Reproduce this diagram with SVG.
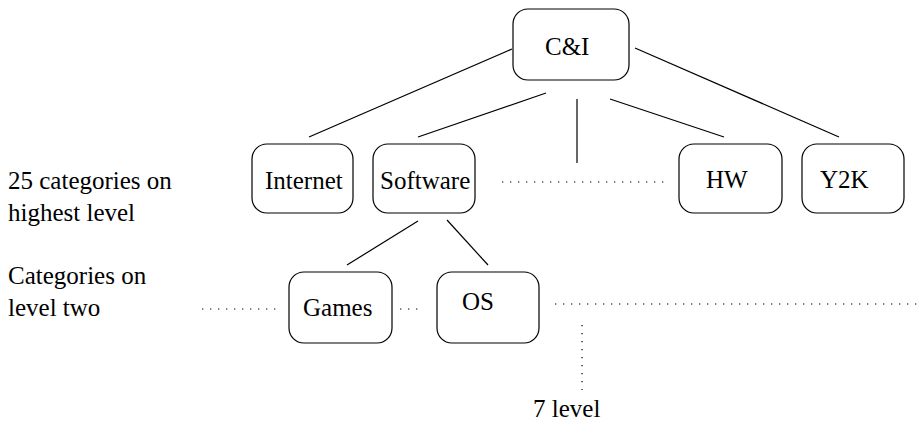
<svg xmlns="http://www.w3.org/2000/svg" width="917" height="421" viewBox="0 0 917 421">
<rect width="917" height="421" fill="#fff"/>
<g id="connectors" stroke="#000" stroke-width="1.2" fill="none">
<line x1="512" y1="49" x2="309" y2="137"/>
<line x1="546" y1="93" x2="418" y2="137"/>
<line x1="577" y1="99" x2="577" y2="163"/>
<line x1="610" y1="99" x2="724" y2="137"/>
<line x1="635" y1="48" x2="839" y2="137"/>
<line x1="418" y1="221" x2="347" y2="265"/>
<line x1="447" y1="220" x2="488" y2="265"/>
<g stroke-dasharray="1.3 6.7">
<line x1="502" y1="182" x2="670" y2="182"/>
<line x1="202" y1="309" x2="276" y2="309"/>
<line x1="400" y1="309" x2="422" y2="309"/>
<line x1="555" y1="304" x2="917" y2="304"/>
<line x1="582" y1="325" x2="582" y2="390"/>
</g>
</g>
<g id="nodes" font-family="Liberation Serif" font-size="25">
<g id="n-ci"><rect x="513" y="9" width="116" height="71" rx="15" fill="#fff" stroke="#000" stroke-width="1.2"/><text x="545" y="55">C&amp;I</text></g>
<g id="n-internet"><rect x="252" y="144" width="101" height="69" rx="15" fill="#fff" stroke="#000" stroke-width="1.2"/><text x="265" y="189">Internet</text></g>
<g id="n-software"><rect x="373" y="144" width="102" height="69" rx="15" fill="#fff" stroke="#000" stroke-width="1.2"/><text x="380" y="189">Software</text></g>
<g id="n-hw"><rect x="679" y="144" width="103" height="69" rx="15" fill="#fff" stroke="#000" stroke-width="1.2"/><text x="706" y="188">HW</text></g>
<g id="n-y2k"><rect x="802" y="144" width="102" height="69" rx="15" fill="#fff" stroke="#000" stroke-width="1.2"/><text x="820" y="188">Y2K</text></g>
<g id="n-games"><rect x="289" y="272" width="103" height="71" rx="15" fill="#fff" stroke="#000" stroke-width="1.2"/><text x="303" y="316">Games</text></g>
<g id="n-os"><rect x="437" y="272" width="102" height="71" rx="15" fill="#fff" stroke="#000" stroke-width="1.2"/><text x="462" y="310">OS</text></g>
</g>
<g id="labels" font-family="Liberation Serif" font-size="25">
<text x="8" y="189">25 categories on</text>
<text x="8" y="221">highest level</text>
<text x="8" y="284">Categories on</text>
<text x="8" y="316">level two</text>
<text x="533" y="417">7 level</text>
</g>
</svg>
